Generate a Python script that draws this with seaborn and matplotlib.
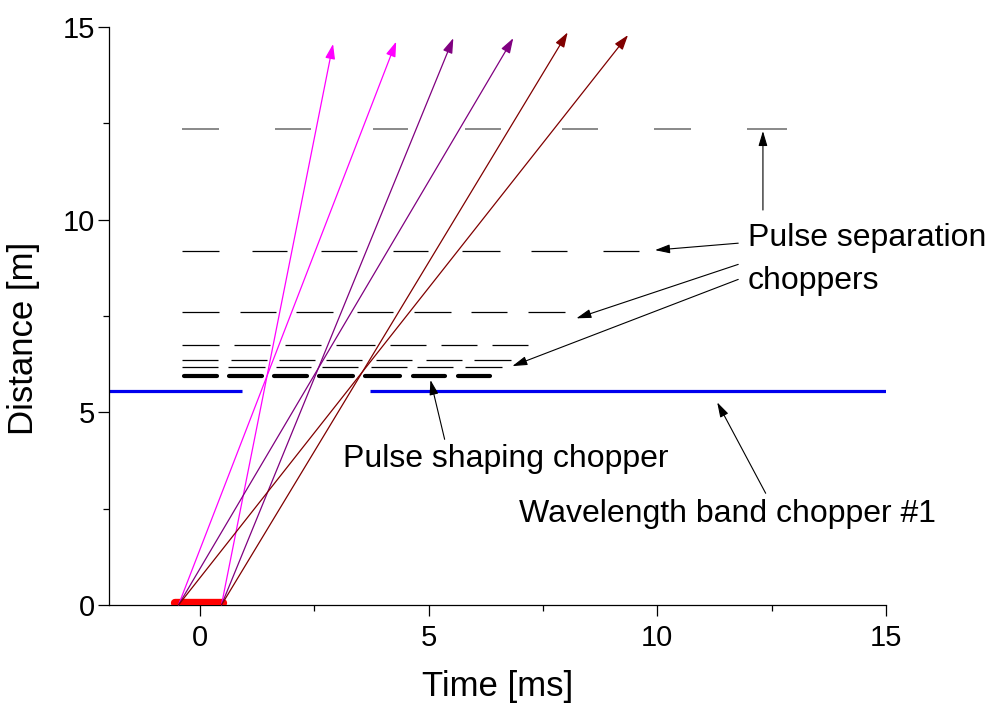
import matplotlib
matplotlib.use("Agg")
import matplotlib.pyplot as plt
import seaborn as sns

# ---------------- data ----------------
x_limits = [-2, 15]
y_limits = [0, 15]
x_ticks = [0, 5, 10, 15]
y_ticks = [0, 5, 10, 15]

# pulse separation choppers (distance, open-start times, open-end times)
sep1_d = 12.35
sep1_on = [-0.40, 1.64, 3.78, 5.79, 7.92, 9.93, 11.96]
sep1_off = [0.41, 2.43, 4.55, 6.58, 8.71, 10.74, 12.84]

sep2_d = 9.19
sep2_on = [-0.40, 1.14, 2.64, 4.22, 5.73, 7.24, 8.82]
sep2_off = [0.41, 1.90, 3.43, 4.99, 6.55, 8.03, 9.60]

sep3_d = 7.60
sep3_on = [-0.40, 0.87, 2.11, 3.43, 4.68, 5.92, 7.17]
sep3_off = [0.41, 1.67, 2.91, 4.23, 5.48, 6.72, 7.98]

sep4_d = 6.75
sep4_on = [-0.40, 0.74, 1.86, 2.97, 4.16, 5.27, 6.38]
sep4_off = [0.41, 1.53, 2.64, 3.82, 4.94, 6.06, 7.17]

sep5_d = 6.36
sep5_on = [-0.40, 0.68, 1.73, 2.76, 3.85, 4.95, 5.99]
sep5_off = [0.39, 1.47, 2.51, 3.54, 4.64, 5.73, 6.80]

sep6_d = 6.18
sep6_on = [-0.40, 0.61, 1.66, 2.67, 3.74, 4.74, 5.79]
sep6_off = [0.39, 1.42, 2.43, 3.46, 4.52, 5.53, 6.60]

# pulse shaping chopper
shape_d = 5.95
shape_on = [-0.35, 0.63, 1.61, 2.60, 3.61, 4.66, 5.64]
shape_off = [0.37, 1.35, 2.34, 3.34, 4.37, 5.36, 6.34]

# wavelength band chopper #1
band_d = 5.56
band_on = [-2.0, 3.72]
band_off = [0.92, 15.0]

# source pulse
source_d = 0.05
source_t = [-0.55, 0.50]

# neutron paths
path_start_t = [0.47, -0.47, 0.47, -0.47, 0.47, -0.47]
path_end_t = [2.91, 4.29, 5.54, 6.85, 8.04, 9.36]
path_end_d = [14.56, 14.62, 14.71, 14.71, 14.86, 14.79]
path_group = ["fast", "fast", "mid", "mid", "slow", "slow"]

# annotations: label, text position, arrow tails and heads
label_sep_1 = "Pulse separation"
label_sep_2 = "choppers"
label_shape = "Pulse shaping chopper"
label_band = "Wavelength band chopper #1"
sep_text_xy = [(11.98, 9.32), (11.98, 8.19)]
shape_text_xy = (3.13, 3.59)
band_text_xy = (6.97, 2.16)
arrow_tail = [(12.31, 10.25), (11.77, 9.39), (11.77, 8.84), (11.77, 8.45), (5.35, 4.30), (12.37, 2.90)]
arrow_head = [(12.31, 12.30), (9.95, 9.21), (8.23, 7.44), (6.83, 6.20), (5.04, 5.84), (11.31, 5.26)]

# ---------------- style ----------------
sns.set_theme(style="ticks")
plt.rcParams["font.family"] = ["Liberation Sans", "DejaVu Sans"]

group_colors = {"fast": "#FF00FF", "mid": "#800080", "slow": "#800000"}

fig = plt.figure(figsize=(9.91, 7.05), dpi=100)
ax = fig.add_axes([0.1095, 0.1418, 0.7845, 0.8199])

# chopper openings
thin_rows = [(sep2_d, sep2_on, sep2_off), (sep3_d, sep3_on, sep3_off),
             (sep4_d, sep4_on, sep4_off), (sep5_d, sep5_on, sep5_off),
             (sep6_d, sep6_on, sep6_off)]
ax.hlines([sep1_d] * len(sep1_on), sep1_on, sep1_off, colors="#808080", linewidth=1.3)
for d, on, off in thin_rows:
    ax.hlines([d] * len(on), on, off, colors="black", linewidth=0.9)
hl = ax.hlines([shape_d] * len(shape_on), shape_on, shape_off, colors="black", linewidth=3.0)
hl.set_capstyle("round")
ax.hlines([band_d] * len(band_on), band_on, band_off, colors="#0000EE", linewidth=2.3)
ax.plot(source_t, [source_d, source_d], color="#FF0000", linewidth=6,
        solid_capstyle="round", zorder=3)

# neutron paths
for t0, t1, d1, g in zip(path_start_t, path_end_t, path_end_d, path_group):
    ax.annotate("", xy=(t1, d1), xytext=(t0, 0),
                arrowprops=dict(arrowstyle="-|>,head_length=0.6,head_width=0.2",
                                color=group_colors[g], lw=0.9, shrinkA=0, shrinkB=0,
                                mutation_scale=15), zorder=4)

# annotation arrows
for tail, head in zip(arrow_tail, arrow_head):
    ax.annotate("", xy=head, xytext=tail,
                arrowprops=dict(arrowstyle="-|>,head_length=0.6,head_width=0.18",
                                color="black", lw=0.8, shrinkA=0, shrinkB=0,
                                mutation_scale=15))

txt_kw = dict(fontsize=23, color="black", ha="left", va="baseline")
ax.text(*sep_text_xy[0], label_sep_1, **txt_kw)
ax.text(*sep_text_xy[1], label_sep_2, **txt_kw)
ax.text(*shape_text_xy, label_shape, **txt_kw)
ax.text(*band_text_xy, label_band, **txt_kw)

# axes
ax.set_xlim(*x_limits)
ax.set_ylim(*y_limits)
ax.set_xticks(x_ticks)
ax.set_yticks(y_ticks)
ax.set_xticks([2.5, 7.5, 12.5], minor=True)
ax.set_yticks([2.5, 7.5, 12.5], minor=True)
ax.tick_params(axis="both", which="major", direction="out", length=8, width=0.9,
               labelsize=21, color="black", labelcolor="black")
ax.tick_params(axis="both", which="minor", direction="out", length=4, width=0.9, color="black")
ax.tick_params(axis="x", which="major", pad=6)
ax.tick_params(axis="y", which="major", pad=2)
sns.despine(ax=ax)
for s in ["left", "bottom"]:
    ax.spines[s].set_color("black")
    ax.spines[s].set_linewidth(0.9)
ax.set_xlabel("Time [ms]", fontsize=25, color="black")
ax.set_ylabel("Distance [m]", fontsize=25, color="black")
ax.xaxis.set_label_coords(0.5, -0.113)
ax.yaxis.set_label_coords(-0.088, 0.462)
ax.grid(False)

fig.savefig("out.png", dpi=100)
